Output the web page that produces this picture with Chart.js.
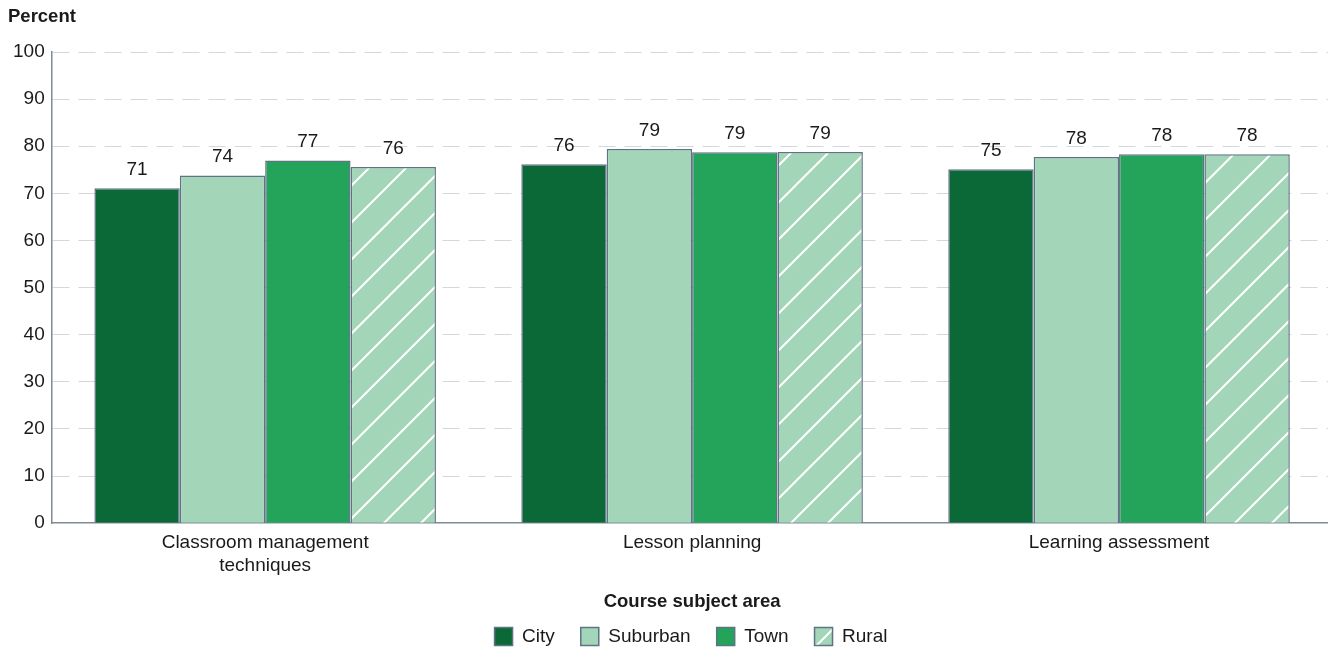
<!DOCTYPE html>
<html>
<head>
<meta charset="utf-8">
<script src="https://cdn.jsdelivr.net/npm/chart.js@4/dist/chart.umd.min.js"></script>
<style>
    html, body { margin: 0; padding: 0; background: #fff; }
    #wrap { width: 1328px; height: 648px; position: relative; }
</style>
</head>
<body>
<div id="wrap"><canvas id="chart"></canvas></div>
<script>
// Chart data
const categories = [['Classroom management', 'techniques'], 'Lesson planning', 'Learning assessment'];
const cityValues = [71.1, 76.2, 75.1];
const suburbanValues = [73.8, 79.4, 77.7];
const townValues = [77.0, 78.7, 78.3];
const ruralValues = [75.6, 78.8, 78.3];
const yTicks = [0, 10, 20, 30, 40, 50, 60, 70, 80, 90, 100];

const FONT = '"Liberation Sans", Arial, sans-serif';
const TEXT = '#1a1a1a';
const EDGE = '#5f7384';

// Diagonal white hatch on light green for the Rural series
function makeHatch(bg) {
    const size = 37;
    const c = document.createElement('canvas');
    c.width = size;
    c.height = size;
    const g = c.getContext('2d');
    g.fillStyle = bg;
    g.fillRect(0, 0, size, size);
    g.strokeStyle = '#ffffff';
    g.lineWidth = 2;
    g.beginPath();
    g.moveTo(-2, size + 2); g.lineTo(size + 2, -2);
    g.moveTo(-2, 2); g.lineTo(2, -2);
    g.moveTo(size - 2, size + 2); g.lineTo(size + 2, size - 2);
    g.stroke();
    const p = g.createPattern(c, 'repeat');
    // phase chosen so a stripe crosses the legend swatch diagonally
    p.setTransform(new DOMMatrix().translate(19, 0));
    return p;
}

// Value labels above every bar
const barLabels = {
    id: 'barLabels',
    afterDatasetsDraw(chart) {
        const ctx = chart.ctx;
        ctx.save();
        ctx.font = '19px ' + FONT;
        ctx.fillStyle = TEXT;
        ctx.textAlign = 'center';
        ctx.textBaseline = 'alphabetic';
        chart.data.datasets.forEach((ds, i) => {
            chart.getDatasetMeta(i).data.forEach((bar, j) => {
                ctx.fillText(Math.round(ds.data[j]).toString(), bar.x, bar.y - 13);
            });
        });
        ctx.restore();
    }
};

// Original plot runs a few px past the right edge; legend sits right of centre
const layoutTweak = {
    id: 'layoutTweak',
    afterLayout(chart) {
        const x = chart.scales.x;
        x.right += 4.5;
        x.width += 4.5;
        x.configure();
        chart.chartArea.right += 4.5;
        chart.chartArea.width += 4.5;
        chart.legend.left += 23;
        chart.legend.right += 23;
    }
};

const ctx = document.getElementById('chart');
new Chart(ctx, {
    type: 'bar',
    data: {
        labels: categories,
        datasets: [
            { label: 'City', data: cityValues, backgroundColor: '#0b6938' },
            { label: 'Suburban', data: suburbanValues, backgroundColor: '#a3d6b8' },
            { label: 'Town', data: townValues, backgroundColor: '#24a35a' },
            { label: 'Rural', data: ruralValues, backgroundColor: makeHatch('#a3d6b8') }
        ].map(d => Object.assign(d, {
            borderColor: EDGE,
            borderWidth: 1.5,
            borderSkipped: 'bottom',
            categoryPercentage: 0.8,
            barPercentage: 1.0
        }))
    },
    options: {
        responsive: true,
        maintainAspectRatio: false,
        animation: false,
        layout: { padding: { left: 8, right: 0, top: 6, bottom: -8 } },
        plugins: {
            title: {
                display: true,
                text: 'Percent',
                align: 'start',
                color: TEXT,
                font: { family: FONT, size: 18.5, weight: 'bold' },
                padding: { top: 0, bottom: 23.8 }
            },
            legend: {
                position: 'bottom',
                labels: {
                    color: TEXT,
                    font: { family: FONT, size: 19 },
                    boxWidth: 18,
                    boxHeight: 18,
                    padding: 26
                }
            },
            tooltip: { enabled: false }
        },
        scales: {
            y: {
                min: 0,
                max: 100,
                afterBuildTicks: axis => { axis.ticks = yTicks.map(v => ({ value: v })); },
                afterFit: axis => { axis.width -= 2; },
                ticks: { color: TEXT, font: { family: FONT, size: 19 }, padding: 7 },
                grid: {
                    color: ctx => ctx.tick && ctx.tick.value === 0 ? 'rgba(0,0,0,0)' : '#d3d8de',
                    drawTicks: false,
                    lineWidth: 1
                },
                border: { display: true, color: '#7d8b98', width: 1.5, dash: [17, 9] }
            },
            x: {
                ticks: { color: TEXT, font: { family: FONT, size: 19 }, padding: 0, maxRotation: 0 },
                grid: { display: false },
                border: { display: true, color: '#7d8b98', width: 1.5 },
                title: {
                    display: true,
                    text: 'Course subject area',
                    color: TEXT,
                    font: { family: FONT, size: 18.5, weight: 'bold' },
                    padding: { top: 14, bottom: -12 }
                }
            }
        }
    },
    plugins: [barLabels, layoutTweak]
});
</script>
</body>
</html>
